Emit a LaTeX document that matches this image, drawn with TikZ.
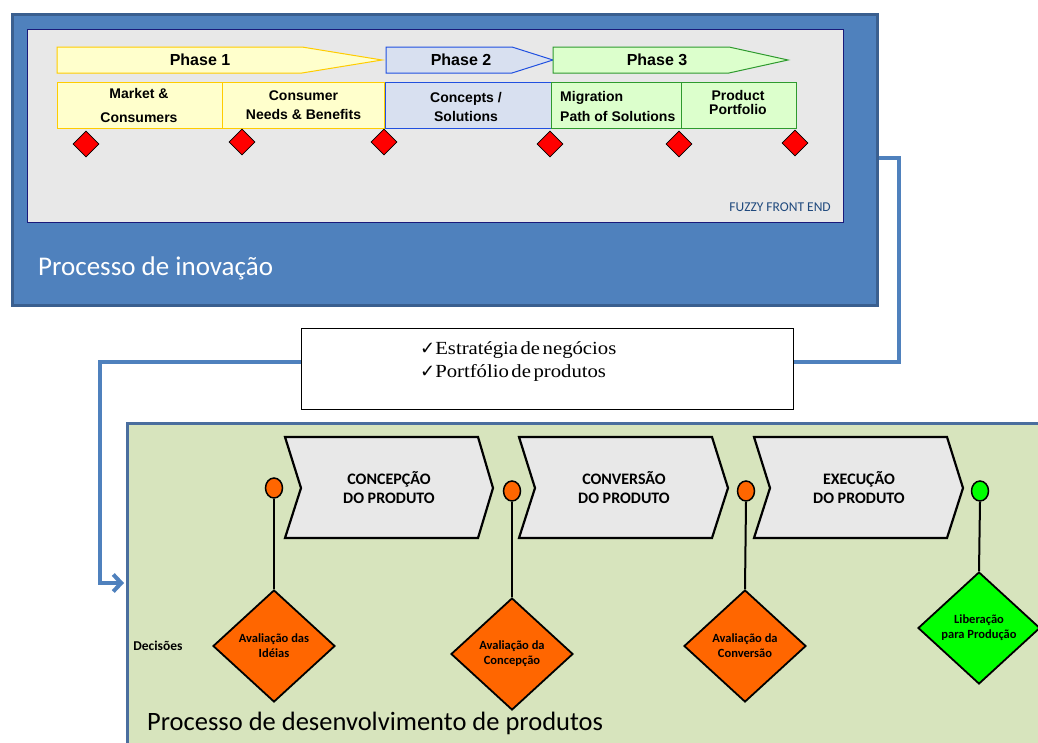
\documentclass[tikz,border=0pt]{standalone}
\usepackage{fontspec}
\setmainfont{Carlito}
\newfontfamily\arialf{Liberation Sans}
\newfontfamily\timesf[FakeStretch=1.12]{Liberation Serif}
\newfontfamily\symf{DejaVu Sans}
\usetikzlibrary{shapes.geometric,arrows.meta,calc}

\definecolor{blueFill}{HTML}{4F81BD}
\definecolor{blueBorder}{HTML}{3A5F8F}
\definecolor{innerFill}{HTML}{E8E8E8}
\definecolor{innerBorder}{HTML}{1A1A7A}
\definecolor{ffeText}{HTML}{1F497D}
\definecolor{pOneFill}{HTML}{FFFFCC}
\definecolor{pOneBorder}{HTML}{FFCC00}
\definecolor{pTwoFill}{HTML}{D8E0F0}
\definecolor{pTwoBorder}{HTML}{2050E0}
\definecolor{pThreeFill}{HTML}{DCFFCC}
\definecolor{pThreeBorder}{HTML}{2E9A2E}
\definecolor{devFill}{HTML}{D7E4BD}
\definecolor{devBorder}{HTML}{4A6E9E}
\definecolor{chevFill}{HTML}{E8E8E8}
\definecolor{gateOrange}{HTML}{FF6600}
\definecolor{gateGreen}{HTML}{00FF00}

\begin{document}
\begin{tikzpicture}[x=1pt,y=-1pt,
  phaseone/.style={draw=pOneBorder,fill=pOneFill,line width=1pt},
  phasetwo/.style={draw=pTwoBorder,fill=pTwoFill,line width=1pt},
  phasethree/.style={draw=pThreeBorder,fill=pThreeFill,line width=1pt},
  phaselabel/.style={font=\arialf\bfseries\fontsize{16}{18}\selectfont,inner sep=0},
  rowbox/.style={minimum height=46,anchor=north west,inner sep=0,line width=1pt},
  rowlabel/.style={font=\arialf\bfseries\fontsize{14}{19}\selectfont,align=center,inner sep=0},
  milestone/.style={diamond,draw=black,fill=red,minimum width=26,minimum height=26,inner sep=0,line width=0.8pt},
  conn/.style={draw=blueFill,line width=4pt},
  chevron/.style={draw=black,fill=chevFill,line width=2.2pt,line join=miter},
  chevlabel/.style={font=\bfseries\fontsize{16}{19}\selectfont,align=center,inner sep=0},
  gatedot/.style={ellipse,draw=black,line width=1.5pt,minimum width=17,minimum height=20,inner sep=0},
  gate/.style={diamond,draw=black,line width=1.8pt,minimum width=122,minimum height=112,inner sep=0,
    align=center,font=\bfseries\fontsize{12.5}{15}\selectfont},
  stem/.style={draw=black,line width=2pt}]

\clip (0,0) rectangle (1038,742);
\fill[white] (0,0) rectangle (1038,742);

% ---------- innovation process ----------
\node[draw=blueBorder,fill=blueFill,line width=3pt,minimum width=865,minimum height=291,
      anchor=north west,inner sep=0] (inov) at (10.5,12.5) {};
\node[draw=innerBorder,fill=innerFill,line width=1.2pt,minimum width=816,minimum height=193,
      anchor=north west,inner sep=0] (ffe) at (27,29) {};

% phase arrows
\draw[phaseone] (57,47) -- (302,47) -- (382,60) -- (302,73) -- (57,73) -- cycle;
\node[phaselabel] (ph1) at (200,60) {Phase 1};
\draw[phasetwo] (386,47) -- (512,47) -- (553,60) -- (512,73) -- (386,73) -- cycle;
\node[phaselabel] (ph2) at (461,60) {Phase 2};
\draw[phasethree] (553,47) -- (729,47) -- (788,60) -- (729,73) -- (553,73) -- cycle;
\node[phaselabel] (ph3) at (657,60) {Phase 3};

% activity boxes
\node[rowbox,draw=pOneBorder,fill=pOneFill,minimum width=165] (mk) at (57,82) {};
\node[rowbox,draw=pOneBorder,fill=pOneFill,minimum width=162] (cn) at (222,82) {};
\node[rowbox,draw=pTwoBorder,fill=pTwoFill,minimum width=166] (cs) at (385,82) {};
\node[rowbox,draw=pThreeBorder,fill=pThreeFill,minimum width=130] (mg) at (551,82) {};
\node[rowbox,draw=pThreeBorder,fill=pThreeFill,minimum width=115] (pp) at (681,82) {};

\node[rowlabel,font=\arialf\bfseries\fontsize{14}{24}\selectfont] at (139,105) {Market \&\\Consumers};
\node[rowlabel] at (cn.center) {Consumer\\Needs \& Benefits};
\node[rowlabel] at (466,106.5) {Concepts /\\Solutions};
\node[rowlabel,align=left,anchor=west,font=\arialf\bfseries\fontsize{14}{20}\selectfont] at (560,106) {Migration\\Path of Solutions};
\node[rowlabel,font=\arialf\bfseries\fontsize{14}{14}\selectfont] at (738,102) {Product\\Portfolio};

% milestones
\node[milestone] (m1) at (86,144) {};
\node[milestone] (m2) at (242,142) {};
\node[milestone] (m3) at (384,142) {};
\node[milestone] (m4) at (550,144) {};
\node[milestone] (m5) at (679,144) {};
\node[milestone] (m6) at (795,143) {};

\node[anchor=base east,inner sep=0,text=ffeText,font=\fontsize{13.5}{15}\selectfont] at (831,211) {FUZZY FRONT END};
\node[anchor=base west,inner sep=0,text=white,font=\fontsize{27}{31}\selectfont] (inovlabel) at (38,275) {Processo de inovação};

% ---------- strategy box ----------
\node[draw=black,fill=white,line width=0.8pt,minimum width=492,minimum height=81,
      anchor=north west,inner sep=0] (txt) at (301,328) {};
\node[anchor=base west,inner sep=0] at (420,354)
  {{\symf\bfseries\fontsize{18}{20}\selectfont ✓}{\timesf\fontsize{18.5}{20}\selectfont\spaceskip=2.5pt Estratégia de negócios}};
\node[anchor=base west,inner sep=0] at (420,377)
  {{\symf\bfseries\fontsize{18}{20}\selectfont ✓}{\timesf\fontsize{18.5}{20}\selectfont\spaceskip=2.5pt Portfólio de produtos}};

% ---------- product development process ----------
\node[draw=devBorder,fill=devFill,line width=3pt,minimum width=930,minimum height=340,
      anchor=north west,inner sep=0] (dev) at (126,422) {};

\draw[conn] (inov.east |- 0,158) -- (899,158) |- (txt.east |- 0,362);
\draw[conn,-{Straight Barb[length=8pt,width=17pt,line width=4pt]},shorten >=2pt]
  (txt.west |- 0,362) -| (100,583) -- (dev.west |- 0,583);

% stages
\draw[chevron] (285,437) -- (478,437) -- (493,488) -- (478,538) -- (285,538) -- (301,488) -- cycle;
\node[chevlabel] (s1) at (389,488) {CONCEPÇÃO\\DO PRODUTO};
\draw[chevron] (519,437) -- (712,437) -- (728,488) -- (712,538) -- (519,538) -- (535,488) -- cycle;
\node[chevlabel] (s2) at (624,488) {CONVERSÃO\\DO PRODUTO};
\draw[chevron] (754,437) -- (947,437) -- (963,488) -- (947,538) -- (754,538) -- (770,488) -- cycle;
\node[chevlabel] (s3) at (859,488) {EXECUÇÃO\\DO PRODUTO};

% decision gates
\node[gatedot,fill=gateOrange] (c1) at (274,488) {};
\node[gatedot,fill=gateOrange] (c2) at (512,491) {};
\node[gatedot,fill=gateOrange] (c3) at (746,491) {};
\node[gatedot,fill=gateGreen] (c4) at (980,491) {};

\node[gate,fill=gateOrange] (d1) at (274,646) {Avaliação das\\Idéias};
\node[gate,fill=gateOrange] (d2) at (512,654) {Avaliação da\\Concepção};
\node[gate,fill=gateOrange] (d3) at (745,646) {Avaliação da\\Conversão};
\node[gate,fill=gateGreen] (d4) at (979,628) {Liberação\\para Produção};

\draw[stem,line width=2.8pt] (c1.south) -- (d1.north);
\draw[stem] (c2.south) -- (d2.north);
\draw[stem] (c3.south) -- (d3.north);
\draw[stem] (c4.south) -- (d4.north);

\node[font=\bfseries\fontsize{13.5}{15}\selectfont,inner sep=0] (dec) at (158,646) {Decisões};
\node[anchor=base west,inner sep=0,font=\fontsize{26.5}{30}\selectfont] (devlabel) at (147,730) {Processo de desenvolvimento de produtos};

\end{tikzpicture}
\end{document}
